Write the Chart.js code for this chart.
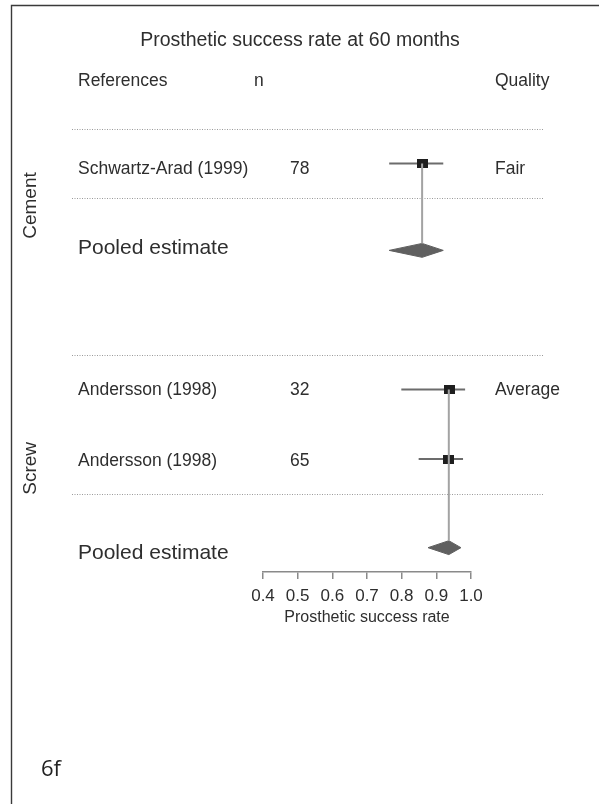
<!DOCTYPE html>
<html>
<head>
<meta charset="utf-8">
<script src="https://cdn.jsdelivr.net/npm/chart.js@4.4.1/dist/chart.umd.min.js"></script>
<style>
  html, body { margin: 0; padding: 0; background: #fff; }
  canvas { display: block; }
</style>
</head>
<body>
<canvas id="forest" width="599" height="804"></canvas>
<script>
// ---- Data ----
const groupNames = ['Cement', 'Screw'];
const studyNames = ['Schwartz-Arad (1999)', 'Andersson (1998)', 'Andersson (1998)'];
const studyGroup = [0, 1, 1];
const studyN = [78, 32, 65];
const studyQuality = ['Fair', 'Average', ''];
const studyEstimate = [0.859, 0.937, 0.936];
const studyLower = [0.764, 0.799, 0.849];
const studyUpper = [0.920, 0.983, 0.977];
const pooledEstimate = [0.859, 0.936];
const pooledLower = [0.764, 0.876];
const pooledUpper = [0.920, 0.971];
const xTickValues = [0.4, 0.5, 0.6, 0.7, 0.8, 0.9, 1.0];
const chartTitle = 'Prosthetic success rate at 60 months';
const columnHeaders = ['References', 'n', 'Quality'];
const axisTitle = 'Prosthetic success rate';
const pooledLabel = 'Pooled estimate';
const panelTag = '6f';

// ---- Row layout (vertical row units) ----
const ROWS = {
  title: -2.52,
  header: -1.38,
  study: [1.0, 7.5, 9.5],
  studyText: [1.17, 7.52, 9.57],
  pooled: [3.5, 12.05],
  pooledText: [3.44, 12.2],
  separators: [0, 2, 6.5, 10.5],
  groupLabel: [2.21, 9.77]
};
const DIAMOND_HALF = 0.2;
const FONT = '"Liberation Sans", Arial, sans-serif';
const TEXT = '#2e2e2e';

// Study marker: small filled block
const marker = document.createElement('canvas');
marker.width = 11; marker.height = 9;
(function () {
  const m = marker.getContext('2d');
  m.fillStyle = '#1e1e1e';
  m.fillRect(0, 0, 11, 9);
})();

// ---- Datasets ----
const datasets = [];

// pooled diamonds
pooledEstimate.forEach((est, g) => {
  const r = ROWS.pooled[g];
  datasets.push({
    type: 'line',
    data: [
      { x: pooledLower[g], y: r },
      { x: est, y: r - DIAMOND_HALF },
      { x: pooledUpper[g], y: r },
      { x: est, y: r + DIAMOND_HALF },
      { x: pooledLower[g], y: r }
    ],
    borderColor: '#606060',
    backgroundColor: '#606060',
    borderWidth: 1,
    fill: 'shape',
    pointRadius: 0,
    tension: 0,
    order: 4
  });
});

// confidence intervals
studyEstimate.forEach((est, i) => {
  datasets.push({
    type: 'line',
    data: [
      { x: studyLower[i], y: ROWS.study[i] },
      { x: studyUpper[i], y: ROWS.study[i] }
    ],
    borderColor: '#6c6c6c',
    borderWidth: 2,
    pointRadius: 0,
    fill: false,
    order: 3
  });
});

// study estimates
datasets.push({
  type: 'scatter',
  data: studyEstimate.map((e, i) => ({ x: e, y: ROWS.study[i] })),
  pointStyle: marker,
  pointRadius: 6,
  order: 2
});

// connectors from first study in each group to the pooled diamond
groupNames.forEach((name, g) => {
  const first = studyGroup.indexOf(g);
  datasets.push({
    type: 'line',
    data: [
      { x: pooledEstimate[g], y: ROWS.study[first] },
      { x: pooledEstimate[g], y: ROWS.pooled[g] - DIAMOND_HALF }
    ],
    borderColor: '#a3a3a3',
    borderWidth: 2,
    pointRadius: 0,
    fill: false,
    order: 1
  });
});

// ---- Table text, separators and frame ----
const forestDecor = {
  id: 'forestDecor',
  beforeDraw(chart) {
    const ctx = chart.ctx;
    ctx.save();
    ctx.fillStyle = '#ffffff';
    ctx.fillRect(0, 0, chart.width, chart.height);
    ctx.restore();
  },
  beforeDatasetsDraw(chart) {
    const { ctx, scales: { y } } = chart;
    ctx.save();
    ctx.strokeStyle = '#9a9a9a';
    ctx.lineWidth = 1;
    ctx.setLineDash([1, 1.5]);
    ROWS.separators.forEach(r => {
      const py = Math.round(y.getPixelForValue(r)) + 0.5;
      ctx.beginPath();
      ctx.moveTo(72, py);
      ctx.lineTo(544, py);
      ctx.stroke();
    });
    ctx.restore();
  },
  afterDraw(chart) {
    const { ctx, scales: { y } } = chart;
    ctx.save();

    // frame
    ctx.strokeStyle = '#3a3a3a';
    ctx.lineWidth = 1.4;
    ctx.beginPath();
    ctx.moveTo(11.5, 804);
    ctx.lineTo(11.5, 5.5);
    ctx.lineTo(599, 5.5);
    ctx.stroke();

    ctx.fillStyle = TEXT;
    ctx.textBaseline = 'middle';

    // title
    ctx.font = '19.5px ' + FONT;
    ctx.textAlign = 'center';
    ctx.fillText(chartTitle, 300, y.getPixelForValue(ROWS.title));

    // column headers
    ctx.font = '17.5px ' + FONT;
    ctx.textAlign = 'left';
    const hy = y.getPixelForValue(ROWS.header);
    ctx.fillText(columnHeaders[0], 78, hy);
    ctx.fillText(columnHeaders[1], 254, hy);
    ctx.fillText(columnHeaders[2], 495, hy);

    // study rows
    studyNames.forEach((name, i) => {
      const ty = y.getPixelForValue(ROWS.studyText[i]);
      ctx.fillText(name, 78, ty);
      ctx.fillText(String(studyN[i]), 290, ty);
      if (studyQuality[i]) ctx.fillText(studyQuality[i], 495, ty);
    });

    // pooled rows
    ctx.font = '21px ' + FONT;
    ROWS.pooledText.forEach(r => {
      ctx.fillText(pooledLabel, 78, y.getPixelForValue(r));
    });

    // group labels (rotated)
    ctx.font = '19px ' + FONT;
    ctx.textAlign = 'center';
    groupNames.forEach((name, g) => {
      ctx.save();
      ctx.translate(31, y.getPixelForValue(ROWS.groupLabel[g]));
      ctx.rotate(-Math.PI / 2);
      ctx.fillText(name, 0, 0);
      ctx.restore();
    });

    // panel tag
    ctx.fillStyle = '#222';
    ctx.font = '22px "Open Sans", "Noto Sans", sans-serif';
    ctx.textAlign = 'left';
    ctx.fillText(panelTag, 41, 770);

    ctx.restore();
  }
};

new Chart(document.getElementById('forest'), {
  type: 'scatter',
  data: { datasets },
  options: {
    responsive: false,
    animation: false,
    events: [],
    layout: { padding: { left: 263, right: 128, top: 6, bottom: 177 } },
    plugins: { legend: { display: false }, tooltip: { enabled: false } },
    scales: {
      x: {
        type: 'linear',
        position: 'bottom',
        min: 0.4,
        max: 1.0,
        afterBuildTicks: s => { s.ticks = xTickValues.map(v => ({ value: v })); },
        afterFit: s => { s.height = 55; },
        ticks: {
          callback: v => Number(v).toFixed(1),
          font: { family: FONT, size: 17 },
          color: TEXT,
          padding: 7,
          maxRotation: 0,
          autoSkip: false
        },
        grid: {
          drawOnChartArea: false,
          drawTicks: true,
          tickLength: 7,
          color: '#8a8a8a',
          lineWidth: 1.5
        },
        border: { display: true, color: '#8a8a8a', width: 1.5 },
        title: {
          display: true,
          text: axisTitle,
          font: { family: FONT, size: 16 },
          color: TEXT,
          padding: 0
        }
      },
      y: {
        type: 'linear',
        display: false,
        reverse: true,
        min: -3.5,
        max: 12.75
      }
    }
  },
  plugins: [forestDecor]
});
</script>
</body>
</html>
